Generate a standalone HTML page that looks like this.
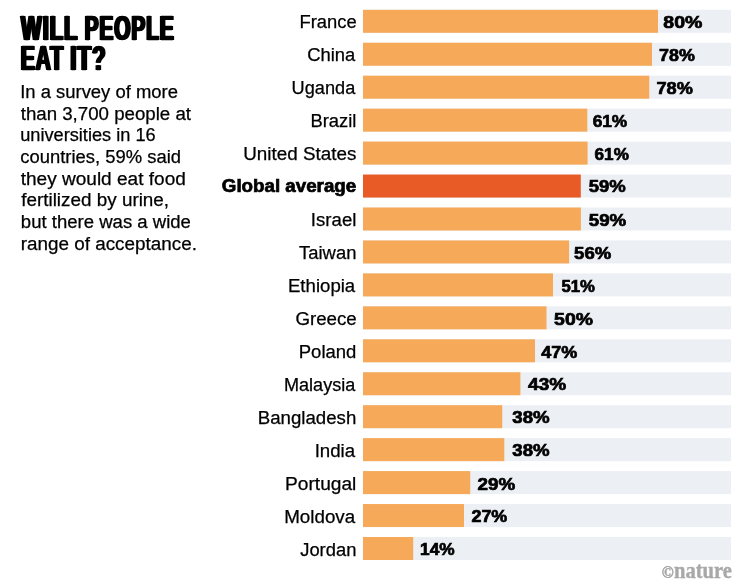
<!DOCTYPE html>
<html><head><meta charset="utf-8"><title>Will people eat it?</title>
<style>
html,body{margin:0;padding:0;background:#fff;}
body{width:751px;height:588px;position:relative;overflow:hidden;}
#L{position:absolute;left:0;top:0;width:751px;height:588px;will-change:transform;transform:translateZ(0);}
.t{position:absolute;white-space:nowrap;transform-origin:0 0;margin:0;padding:0;}
.sans{font-family:"Liberation Sans",sans-serif;font-weight:400;}
.sansb{font-family:"Liberation Sans",sans-serif;font-weight:700;}
.serifb{font-family:"Liberation Serif",serif;font-weight:700;}
.tr{position:absolute;left:0;top:0;width:368px;height:23px;background:#eceff4;transform-origin:0 0;}
.br{position:absolute;left:0;top:0;width:100px;height:23px;background:#f6a958;transform-origin:0 0;}
</style></head><body><div id="L">
<div class="t sansb" style="left:21px;top:8px;font-size:35.0px;line-height:39px;color:#000;transform:translateX(0.09px) scaleX(0.6245);-webkit-text-stroke:0.4px #000;letter-spacing:1.5px;text-shadow:2.0px 0 0 #000,-2.0px 0 0 #000;">WILL</div>
<div class="t sansb" style="left:84px;top:8px;font-size:35.0px;line-height:39px;color:#000;transform:translateX(0.59px) scaleX(0.5963);-webkit-text-stroke:0.4px #000;letter-spacing:1.5px;text-shadow:2.0px 0 0 #000,-2.0px 0 0 #000;">PEOPLE</div>
<div class="t sansb" style="left:20px;top:38px;font-size:35.0px;line-height:39px;color:#000;transform:translateX(0.72px) scaleX(0.6015);-webkit-text-stroke:0.4px #000;letter-spacing:1.5px;text-shadow:2.0px 0 0 #000,-2.0px 0 0 #000;">EAT</div>
<div class="t sansb" style="left:70px;top:38px;font-size:35.0px;line-height:39px;color:#000;transform:translateX(0.24px) scaleX(0.6356);-webkit-text-stroke:0.4px #000;letter-spacing:1.5px;text-shadow:2.0px 0 0 #000,-2.0px 0 0 #000;">IT?</div>
<div class="t sans" style="left:20px;top:82px;font-size:17.6px;line-height:20px;color:#000;transform:translateX(0.20px) scaleX(1.0474);-webkit-text-stroke:0.25px #000;">In a survey of more</div>
<div class="t sans" style="left:20px;top:104px;font-size:17.6px;line-height:20px;color:#000;transform:translateX(0.71px) scaleX(1.0612);-webkit-text-stroke:0.25px #000;">than 3,700 people at</div>
<div class="t sans" style="left:20px;top:125px;font-size:17.6px;line-height:20px;color:#000;transform:translateX(0.18px) scaleX(1.0337);-webkit-text-stroke:0.25px #000;">universities in 16</div>
<div class="t sans" style="left:20px;top:147px;font-size:17.6px;line-height:20px;color:#000;transform:translateX(0.33px) scaleX(1.0464);-webkit-text-stroke:0.25px #000;">countries, 59% said</div>
<div class="t sans" style="left:20px;top:169px;font-size:17.6px;line-height:20px;color:#000;transform:translateX(0.67px) scaleX(1.0824);-webkit-text-stroke:0.25px #000;">they would eat food</div>
<div class="t sans" style="left:21px;top:190px;font-size:17.6px;line-height:20px;color:#000;transform:translateX(0.19px) scaleX(1.0727);-webkit-text-stroke:0.25px #000;">fertilized by urine,</div>
<div class="t sans" style="left:20px;top:212px;font-size:17.6px;line-height:20px;color:#000;transform:translateX(0.84px) scaleX(1.0539);-webkit-text-stroke:0.25px #000;">but there was a wide</div>
<div class="t sans" style="left:20px;top:234px;font-size:17.6px;line-height:20px;color:#000;transform:translateX(0.72px) scaleX(1.0724);-webkit-text-stroke:0.25px #000;">range of acceptance.</div>
<div class="tr" style="transform:translate(363px,9.80px)"></div>
<div class="br" style="transform:translate(363px,9.80px) scaleX(2.9500);"></div>
<div class="t sans" style="left:299px;top:12px;font-size:17.6px;line-height:20px;color:#000;transform:translateX(0.41px) scaleX(1.0463);-webkit-text-stroke:0.25px #000;">France</div>
<div class="t sansb" style="left:663px;top:13px;font-size:16.6px;line-height:19px;color:#000;transform:translateX(0.30px) scaleX(1.1770);-webkit-text-stroke:0.7px #000;">80%</div>
<div class="tr" style="transform:translate(363px,42.75px)"></div>
<div class="br" style="transform:translate(363px,42.75px) scaleX(2.8900);"></div>
<div class="t sans" style="left:307px;top:45px;font-size:17.6px;line-height:20px;color:#000;transform:translateX(0.16px) scaleX(1.0460);-webkit-text-stroke:0.25px #000;">China</div>
<div class="t sansb" style="left:659px;top:46px;font-size:16.6px;line-height:19px;color:#000;transform:translateX(0.05px) scaleX(1.0769);-webkit-text-stroke:0.7px #000;">78%</div>
<div class="tr" style="transform:translate(363px,75.70px)"></div>
<div class="br" style="transform:translate(363px,75.70px) scaleX(2.8630);"></div>
<div class="t sans" style="left:291px;top:78px;font-size:17.6px;line-height:20px;color:#000;transform:translateX(0.60px) scaleX(1.0326);-webkit-text-stroke:0.25px #000;">Uganda</div>
<div class="t sansb" style="left:656px;top:79px;font-size:16.6px;line-height:19px;color:#000;transform:translateX(0.48px) scaleX(1.0938);-webkit-text-stroke:0.7px #000;">78%</div>
<div class="tr" style="transform:translate(363px,108.65px)"></div>
<div class="br" style="transform:translate(363px,108.65px) scaleX(2.2430);"></div>
<div class="t sans" style="left:310px;top:111px;font-size:17.6px;line-height:20px;color:#000;transform:translateX(0.41px) scaleX(1.0438);-webkit-text-stroke:0.25px #000;">Brazil</div>
<div class="t sansb" style="left:592px;top:112px;font-size:16.6px;line-height:19px;color:#000;transform:translateX(0.64px) scaleX(1.0409);-webkit-text-stroke:0.7px #000;">61%</div>
<div class="tr" style="transform:translate(363px,141.60px)"></div>
<div class="br" style="transform:translate(363px,141.60px) scaleX(2.2460);"></div>
<div class="t sans" style="left:243px;top:144px;font-size:17.6px;line-height:20px;color:#000;transform:translateX(0.24px) scaleX(1.0711);-webkit-text-stroke:0.25px #000;">United States</div>
<div class="t sansb" style="left:594px;top:145px;font-size:16.6px;line-height:19px;color:#000;transform:translateX(0.61px) scaleX(1.0303);-webkit-text-stroke:0.7px #000;">61%</div>
<div class="tr" style="transform:translate(363px,174.55px)"></div>
<div class="br" style="transform:translate(363px,174.55px) scaleX(2.1780);background:#e95b26;"></div>
<div class="t sansb" style="left:221px;top:176px;font-size:17.6px;line-height:20px;color:#000;transform:translateX(0.82px) scaleX(1.0650);-webkit-text-stroke:0.7px #000;">Global average</div>
<div class="t sansb" style="left:588px;top:177px;font-size:16.6px;line-height:19px;color:#000;transform:translateX(0.76px) scaleX(1.1155);-webkit-text-stroke:0.7px #000;">59%</div>
<div class="tr" style="transform:translate(363px,207.50px)"></div>
<div class="br" style="transform:translate(363px,207.50px) scaleX(2.1790);"></div>
<div class="t sans" style="left:310px;top:210px;font-size:17.6px;line-height:20px;color:#000;transform:translateX(0.87px) scaleX(1.0572);-webkit-text-stroke:0.25px #000;">Israel</div>
<div class="t sansb" style="left:588px;top:211px;font-size:16.6px;line-height:19px;color:#000;transform:translateX(0.78px) scaleX(1.1288);-webkit-text-stroke:0.7px #000;">59%</div>
<div class="tr" style="transform:translate(363px,240.45px)"></div>
<div class="br" style="transform:translate(363px,240.45px) scaleX(2.0610);"></div>
<div class="t sans" style="left:299px;top:243px;font-size:17.6px;line-height:20px;color:#000;transform:translateX(0.04px) scaleX(1.0470);-webkit-text-stroke:0.25px #000;">Taiwan</div>
<div class="t sansb" style="left:574px;top:244px;font-size:16.6px;line-height:19px;color:#000;transform:translateX(0.11px) scaleX(1.1170);-webkit-text-stroke:0.7px #000;">56%</div>
<div class="tr" style="transform:translate(363px,273.40px)"></div>
<div class="br" style="transform:translate(363px,273.40px) scaleX(1.9000);"></div>
<div class="t sans" style="left:287px;top:276px;font-size:17.6px;line-height:20px;color:#000;transform:translateX(0.96px) scaleX(1.0578);-webkit-text-stroke:0.25px #000;">Ethiopia</div>
<div class="t sansb" style="left:561px;top:277px;font-size:16.6px;line-height:19px;color:#000;transform:translateX(0.38px) scaleX(1.0071);-webkit-text-stroke:0.7px #000;">51%</div>
<div class="tr" style="transform:translate(363px,306.35px)"></div>
<div class="br" style="transform:translate(363px,306.35px) scaleX(1.8350);"></div>
<div class="t sans" style="left:295px;top:309px;font-size:17.6px;line-height:20px;color:#000;transform:translateX(0.38px) scaleX(1.0639);-webkit-text-stroke:0.25px #000;">Greece</div>
<div class="t sansb" style="left:554px;top:310px;font-size:16.6px;line-height:19px;color:#000;transform:translateX(0.12px) scaleX(1.1666);-webkit-text-stroke:0.7px #000;">50%</div>
<div class="tr" style="transform:translate(363px,339.30px)"></div>
<div class="br" style="transform:translate(363px,339.30px) scaleX(1.7200);"></div>
<div class="t sans" style="left:298px;top:342px;font-size:17.6px;line-height:20px;color:#000;transform:translateX(0.75px) scaleX(1.0516);-webkit-text-stroke:0.25px #000;">Poland</div>
<div class="t sansb" style="left:541px;top:343px;font-size:16.6px;line-height:19px;color:#000;transform:translateX(0.15px) scaleX(1.0835);-webkit-text-stroke:0.7px #000;">47%</div>
<div class="tr" style="transform:translate(363px,372.25px)"></div>
<div class="br" style="transform:translate(363px,372.25px) scaleX(1.5740);"></div>
<div class="t sans" style="left:283px;top:375px;font-size:17.6px;line-height:20px;color:#000;transform:translateX(0.97px) scaleX(1.0269);-webkit-text-stroke:0.25px #000;">Malaysia</div>
<div class="t sansb" style="left:528px;top:375px;font-size:16.6px;line-height:19px;color:#000;transform:translateX(0.11px) scaleX(1.1480);-webkit-text-stroke:0.7px #000;">43%</div>
<div class="tr" style="transform:translate(363px,405.20px)"></div>
<div class="br" style="transform:translate(363px,405.20px) scaleX(1.3920);"></div>
<div class="t sans" style="left:257px;top:408px;font-size:17.6px;line-height:20px;color:#000;transform:translateX(0.80px) scaleX(1.0598);-webkit-text-stroke:0.25px #000;">Bangladesh</div>
<div class="t sansb" style="left:512px;top:408px;font-size:16.6px;line-height:19px;color:#000;transform:translateX(0.33px) scaleX(1.1264);-webkit-text-stroke:0.7px #000;">38%</div>
<div class="tr" style="transform:translate(363px,438.15px)"></div>
<div class="br" style="transform:translate(363px,438.15px) scaleX(1.4130);"></div>
<div class="t sans" style="left:314px;top:441px;font-size:17.6px;line-height:20px;color:#000;transform:translateX(0.67px) scaleX(1.0612);-webkit-text-stroke:0.25px #000;">India</div>
<div class="t sansb" style="left:512px;top:441px;font-size:16.6px;line-height:19px;color:#000;transform:translateX(0.33px) scaleX(1.1234);-webkit-text-stroke:0.7px #000;">38%</div>
<div class="tr" style="transform:translate(363px,471.10px)"></div>
<div class="br" style="transform:translate(363px,471.10px) scaleX(1.0720);"></div>
<div class="t sans" style="left:285px;top:474px;font-size:17.6px;line-height:20px;color:#000;transform:translateX(0.02px) scaleX(1.0885);-webkit-text-stroke:0.25px #000;">Portugal</div>
<div class="t sansb" style="left:477px;top:475px;font-size:16.6px;line-height:19px;color:#000;transform:translateX(0.57px) scaleX(1.1342);-webkit-text-stroke:0.7px #000;">29%</div>
<div class="tr" style="transform:translate(363px,504.05px)"></div>
<div class="br" style="transform:translate(363px,504.05px) scaleX(1.0100);"></div>
<div class="t sans" style="left:284px;top:507px;font-size:17.6px;line-height:20px;color:#000;transform:translateX(0.20px) scaleX(1.0675);-webkit-text-stroke:0.25px #000;">Moldova</div>
<div class="t sansb" style="left:471px;top:507px;font-size:16.6px;line-height:19px;color:#000;transform:translateX(0.44px) scaleX(1.0780);-webkit-text-stroke:0.7px #000;">27%</div>
<div class="tr" style="transform:translate(363px,537.00px)"></div>
<div class="br" style="transform:translate(363px,537.00px) scaleX(0.5020);"></div>
<div class="t sans" style="left:300px;top:540px;font-size:17.6px;line-height:20px;color:#000;transform:translateX(0.19px) scaleX(1.0451);-webkit-text-stroke:0.25px #000;">Jordan</div>
<div class="t sansb" style="left:420px;top:540px;font-size:16.6px;line-height:19px;color:#000;transform:translateX(0.05px) scaleX(1.0407);-webkit-text-stroke:0.7px #000;">14%</div>
<div class="t serifb" style="left:673px;top:558px;font-size:23px;line-height:25px;color:#a8a8a8;transform:translateX(0.95px) scaleX(0.8954);-webkit-text-stroke:0.35px #a8a8a8;">nature</div>
<div class="t serifb" style="left:661px;top:564px;font-size:16px;line-height:17px;color:#a6a6a6;transform:translateX(0.73px) scaleX(0.9976);-webkit-text-stroke:0.5px #a6a6a6;">©</div>
</div></body></html>
